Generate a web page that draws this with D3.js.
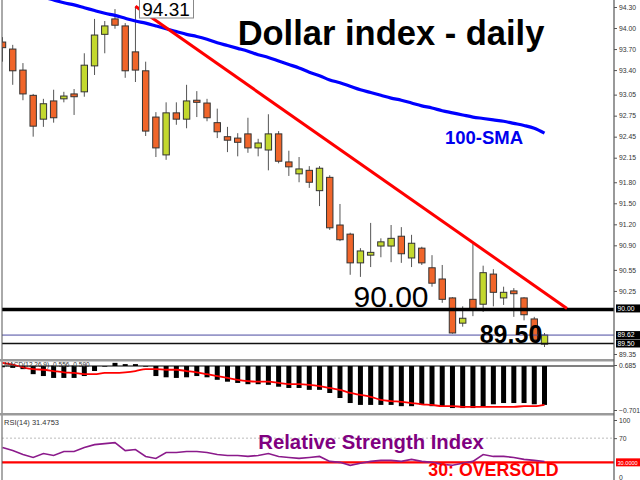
<!DOCTYPE html>
<html><head><meta charset="utf-8">
<script src="https://cdn.jsdelivr.net/npm/d3@7/dist/d3.min.js"></script>
<style>body{margin:0;background:#fff;} svg{display:block;font-family:"Liberation Sans",Arial,sans-serif;}</style>
</head><body>
<svg id="c" width="640" height="480"></svg>
<script>
// ---- data ----
const opens  = [93.80,93.70,93.40,93.04,92.70,92.96,92.99,93.06,93.09,93.46,93.91,94.13,94.03,93.66,93.39,92.73,92.19,92.79,92.70,92.97,92.93,92.65,92.45,92.43,92.49,92.29,92.26,92.49,92.09,91.92,91.97,91.68,91.87,91.19,91.06,90.65,90.76,90.89,90.89,91.03,90.72,90.86,90.58,90.42,90.15,89.79,90.13,90.06,90.49,90.15,90.25,90.15,89.85,89.49];
const highs  = [93.87,93.76,93.50,93.06,92.99,93.12,93.09,93.13,93.64,94.13,94.10,94.27,94.07,94.31,93.52,92.80,92.94,92.94,93.19,93.10,92.99,92.85,92.59,92.50,92.72,92.42,92.77,92.53,92.25,92.16,92.03,92.03,91.90,91.49,91.08,90.86,91.22,91.00,91.19,91.16,91.05,90.88,90.76,90.62,90.16,90.03,90.92,90.61,90.56,90.31,90.29,90.16,89.88,89.65];
const lows   = [93.52,93.19,92.97,92.45,92.59,92.65,92.94,92.76,93.02,93.33,93.64,93.99,93.29,93.23,92.46,92.16,92.12,92.62,92.57,92.73,92.67,92.43,92.23,92.17,92.22,92.17,91.97,92.07,91.89,91.80,91.72,91.46,91.12,90.96,90.48,90.45,90.59,90.73,90.66,90.65,90.59,90.62,90.31,90.08,89.64,89.74,89.89,89.95,90.03,90.05,89.88,89.83,89.51,89.45];
const closes = [93.72,93.39,93.06,92.60,92.92,92.72,93.03,93.02,93.47,93.90,94.03,94.04,93.39,93.40,92.53,92.29,92.79,92.70,92.96,92.94,92.72,92.52,92.40,92.37,92.29,92.36,92.49,92.10,92.02,91.99,91.80,92.00,91.15,90.98,90.65,90.82,90.80,90.95,91.00,90.78,90.93,90.65,90.36,90.13,89.65,89.86,89.99,90.51,90.23,90.23,90.21,89.91,89.55,89.62];
const sma100 = [94.585,94.55,94.51,94.47,94.44,94.40,94.36,94.33,94.29,94.25,94.21,94.18,94.14,94.10,94.07,94.03,93.99,93.95,93.91,93.88,93.84,93.79,93.75,93.71,93.67,93.62,93.58,93.53,93.48,93.43,93.37,93.32,93.26,93.22,93.17,93.12,93.08,93.04,93.00,92.97,92.93,92.89,92.86,92.82,92.79,92.76,92.73,92.71,92.69,92.67,92.64,92.61,92.57,92.50];
const macdHist = [-0.02,-0.03,-0.05,-0.13,-0.16,-0.19,-0.19,-0.19,-0.16,-0.08,-0.01,0.05,0.03,0.03,-0.01,-0.16,-0.18,-0.19,-0.18,-0.16,-0.18,-0.22,-0.25,-0.27,-0.29,-0.29,-0.30,-0.33,-0.35,-0.35,-0.38,-0.38,-0.43,-0.51,-0.59,-0.62,-0.62,-0.62,-0.62,-0.64,-0.64,-0.62,-0.64,-0.65,-0.67,-0.67,-0.67,-0.64,-0.61,-0.59,-0.59,-0.59,-0.61,-0.62];
const macdSignal = [0.05,0.02,-0.02,-0.05,-0.06,-0.08,-0.10,-0.11,-0.13,-0.13,-0.11,-0.11,-0.10,-0.08,-0.05,-0.05,-0.06,-0.06,-0.08,-0.10,-0.13,-0.16,-0.19,-0.22,-0.24,-0.25,-0.25,-0.27,-0.29,-0.29,-0.30,-0.32,-0.35,-0.38,-0.43,-0.46,-0.49,-0.54,-0.56,-0.57,-0.59,-0.61,-0.62,-0.64,-0.64,-0.65,-0.65,-0.65,-0.65,-0.65,-0.65,-0.64,-0.64,-0.62];
const rsi14 = [54.4,49.5,43.0,38.1,44.7,41.4,47.9,47.9,54.4,59.3,60.9,62.6,49.5,51.2,39.8,36.5,46.3,46.3,47.9,47.9,46.3,43.0,41.4,41.4,39.8,41.4,44.7,39.8,38.1,36.5,38.1,39.8,31.6,30.0,25.1,28.4,31.6,33.3,33.3,31.6,34.9,31.6,30.0,26.7,25.1,28.4,31.6,43.0,39.8,39.8,38.1,34.9,33.3,31.5];
const priceTicks = [94.30,94.00,93.70,93.40,93.05,92.75,92.45,92.15,91.80,91.50,91.20,90.90,90.55,90.25,89.35];
const boxedPrices = [90.00,89.62,89.50];
const macdTicks = [0.685,-0.701];
const rsiTicks = [100,70,0];
const trendIdx = [13,55.2];
const trendPx = [94.31,90.00];
const supportLevel = 90.00;
const currentPrice = 89.62;
const lowLevel = 89.50;
const rsiOversold = 30;
const rsiOverbought = 70;
const highLabel = "94.31";
const titleText = "Dollar index - daily";
const smaText = "100-SMA";
const supportText = "90.00";
const lowText = "89.50";
const rsiTitle = "Relative Strength Index";
const oversoldText = "30: OVERSOLD";
const macdLegend = "MACD(12,26,9) -0.556 -0.590";
const rsiLegend = "RSI(14) 31.4753";

// ---- layout ----
const svg = d3.select("#c");
const axisX = 614, leftX = 2;
const mainTop = 0, mainBot = 359, macdTop = 361, macdBot = 413, rsiTop = 416, rsiBot = 480;
const idx = d3.range(closes.length);
const x = d3.scaleLinear().domain([0, closes.length - 1]).range([2.5, 544.5]);
const y = d3.scaleLinear().domain([89.35, 94.30]).range([354, 7]);
const ym = d3.scaleLinear().domain([-0.701, 0]).range([410, 366]);
const ymLabel = d3.scaleLinear().domain([-0.701, 0.685]).range([410, 365]); // window min/max labels
const yr = d3.scaleLinear().domain([0, 100]).range([480.5, 420]);

const defs = svg.append("defs");
defs.append("clipPath").attr("id","cm").append("rect").attr("x",leftX).attr("y",mainTop).attr("width",axisX-leftX).attr("height",mainBot-mainTop);
defs.append("clipPath").attr("id","cmacd").append("rect").attr("x",leftX).attr("y",macdTop).attr("width",axisX-leftX).attr("height",macdBot-macdTop);
defs.append("clipPath").attr("id","crsi").append("rect").attr("x",leftX).attr("y",rsiTop).attr("width",axisX-leftX).attr("height",rsiBot-rsiTop);

// ---- main panel ----
const gm = svg.append("g").attr("clip-path","url(#cm)");
const orange = "#f0652a", green = "#c3d82e";
gm.selectAll("line.wick").data(idx).join("line").attr("class","wick")
  .attr("x1", i => x(i)).attr("x2", i => x(i))
  .attr("y1", i => y(highs[i])).attr("y2", i => y(lows[i]))
  .attr("stroke","#555").attr("stroke-width",1);
gm.selectAll("rect.body").data(idx).join("rect").attr("class","body")
  .attr("x", i => x(i) - 3.2).attr("width", 6.4)
  .attr("y", i => y(Math.max(opens[i], closes[i])))
  .attr("height", i => Math.max(1.5, Math.abs(y(opens[i]) - y(closes[i]))))
  .attr("fill", i => closes[i] >= opens[i] ? green : orange)
  .attr("stroke","#333").attr("stroke-width",1);

// horizontal levels
gm.append("line").attr("x1",leftX).attr("x2",axisX).attr("y1",y(currentPrice)).attr("y2",y(currentPrice)).attr("stroke","#4a4aa0").attr("stroke-width",1);
gm.append("line").attr("x1",leftX).attr("x2",axisX).attr("y1",y(lowLevel)).attr("y2",y(lowLevel)).attr("stroke","#111").attr("stroke-width",1.6);
gm.append("line").attr("x1",0).attr("x2",axisX).attr("y1",y(supportLevel)+1).attr("y2",y(supportLevel)+1).attr("stroke","#000").attr("stroke-width",3.5);

// SMA
gm.append("path").datum(idx).attr("fill","none").attr("stroke","#0000ff").attr("stroke-width",3.2)
  .attr("d", d3.line().x(i => x(i)).y(i => y(sma100[i])).curve(d3.curveMonotoneX));
// trendline
gm.append("path").datum(d3.range(trendIdx.length)).attr("fill","none").attr("stroke","#ff0000").attr("stroke-width",3)
  .attr("d", d3.line().x(k => x(trendIdx[k])).y(k => y(trendPx[k])));

// texts main
svg.append("text").attr("x",391).attr("y",45).attr("text-anchor","middle").attr("font-size",34.5).attr("font-weight","bold").attr("fill","#000").text(titleText);
svg.append("text").attr("x",484).attr("y",144).attr("text-anchor","middle").attr("font-size",18.5).attr("font-weight","bold").attr("fill","#0000ee").text(smaText);
svg.append("text").attr("x",391).attr("y",307).attr("text-anchor","middle").attr("font-size",30).attr("fill","#000").text(supportText);
svg.append("text").attr("x",511).attr("y",343).attr("text-anchor","middle").attr("font-size",25).attr("font-weight","bold").attr("fill","#000").text(lowText);
// high label box
const hl = svg.append("g");
hl.append("rect").attr("x",139.5).attr("y",-1).attr("width",54).attr("height",19).attr("fill","#fff").attr("stroke","#888");
hl.append("text").attr("x",166).attr("y",16).attr("text-anchor","middle").attr("font-size",19).attr("fill","#000").text(highLabel);

// ---- MACD panel ----
const gd = svg.append("g").attr("clip-path","url(#cmacd)");
gd.append("line").attr("x1",leftX).attr("x2",axisX).attr("y1",ym(0)).attr("y2",ym(0)).attr("stroke","#000").attr("stroke-width",1);
gd.selectAll("rect.h").data(idx).join("rect").attr("class","h")
  .attr("x", i => x(i) - 2.5).attr("width", 5)
  .attr("y", i => Math.min(ym(0), ym(macdHist[i])))
  .attr("height", i => Math.max(0.5, Math.abs(ym(macdHist[i]) - ym(0))))
  .attr("fill","#000");
gd.append("path").datum(idx).attr("fill","none").attr("stroke","#ff0000").attr("stroke-width",1.8)
  .attr("d", d3.line().x(i => x(i)).y(i => ym(macdSignal[i])).curve(d3.curveMonotoneX));
svg.append("text").attr("x",4).attr("y",367).attr("font-size",6.5).attr("fill","#333").text(macdLegend);

// ---- RSI panel ----
const gr = svg.append("g").attr("clip-path","url(#crsi)");
gr.append("line").attr("x1",leftX).attr("x2",axisX).attr("y1",yr(rsiOverbought)).attr("y2",yr(rsiOverbought)).attr("stroke","#bbb").attr("stroke-dasharray","2,2");
gr.append("line").attr("x1",leftX).attr("x2",axisX).attr("y1",yr(rsiOversold)).attr("y2",yr(rsiOversold)).attr("stroke","#ff0000").attr("stroke-width",2.2);
gr.append("path").datum(idx).attr("fill","none").attr("stroke","#8b1a8b").attr("stroke-width",1.6)
  .attr("d", d3.line().x(i => x(i)).y(i => yr(rsi14[i])));
svg.append("text").attr("x",4).attr("y",425).attr("font-size",7.5).attr("fill","#333").text(rsiLegend);
svg.append("text").attr("x",371).attr("y",449).attr("text-anchor","middle").attr("font-size",20.3).attr("font-weight","bold").attr("fill","#800080").text(rsiTitle);
svg.append("text").attr("x",493.5).attr("y",476.3).attr("text-anchor","middle").attr("font-size",17.8).attr("font-weight","bold").attr("fill","#ff0000").text(oversoldText);

// ---- frame / separators ----
svg.append("line").attr("x1",leftX).attr("x2",leftX).attr("y1",0).attr("y2",480).attr("stroke","#555").attr("stroke-width",1);
[mainBot, macdBot].forEach(v => svg.append("rect").attr("x",0).attr("y",v).attr("width",axisX).attr("height",2.5).attr("fill","#9a9a9a"));
svg.append("line").attr("x1",axisX).attr("x2",axisX).attr("y1",0).attr("y2",480).attr("stroke","#555").attr("stroke-width",1.2);

// ---- axes ----
const axStyle = g => { g.select(".domain").remove(); g.selectAll("text").attr("font-size",6.8).attr("fill","#333").attr("font-family","Liberation Sans, Arial"); g.selectAll("line").attr("stroke","#555"); };
svg.append("g").attr("transform",`translate(${axisX},0)`)
  .call(d3.axisRight(y).tickValues(priceTicks).tickFormat(d3.format(".2f")).tickSize(3).tickPadding(2)).call(axStyle);
svg.append("g").attr("transform",`translate(${axisX},0)`)
  .call(d3.axisRight(ymLabel).tickValues(macdTicks).tickFormat(d3.format(".3f")).tickSize(3).tickPadding(2)).call(axStyle);
const rAx = svg.append("g").attr("transform",`translate(${axisX},0)`)
  .call(d3.axisRight(yr).tickValues(rsiTicks).tickFormat(d3.format("d")).tickSize(3).tickPadding(2)).call(axStyle);
rAx.selectAll(".tick").filter(d => d === 0).select("text").attr("dy","-0.1em");

// boxed labels
const boxes = boxedPrices.map(v => ({yy: y(v), bg: "#000", fg: "#fff", t: v.toFixed(2), fs: 6.8}));
boxes.push({yy: yr(rsiOversold), bg: "#ff0000", fg: "#fff", t: rsiOversold.toFixed(4), fs: 5.6});
const bg = svg.selectAll("g.box").data(boxes).join("g").attr("class","box");
bg.append("rect").attr("x",616).attr("y",d => d.yy - 4).attr("width",24).attr("height",8).attr("fill",d => d.bg);
bg.append("text").attr("x",617.5).attr("y",d => d.yy + 2.4).attr("font-size",d => d.fs).attr("fill",d => d.fg).text(d => d.t);
</script>
</body></html>
